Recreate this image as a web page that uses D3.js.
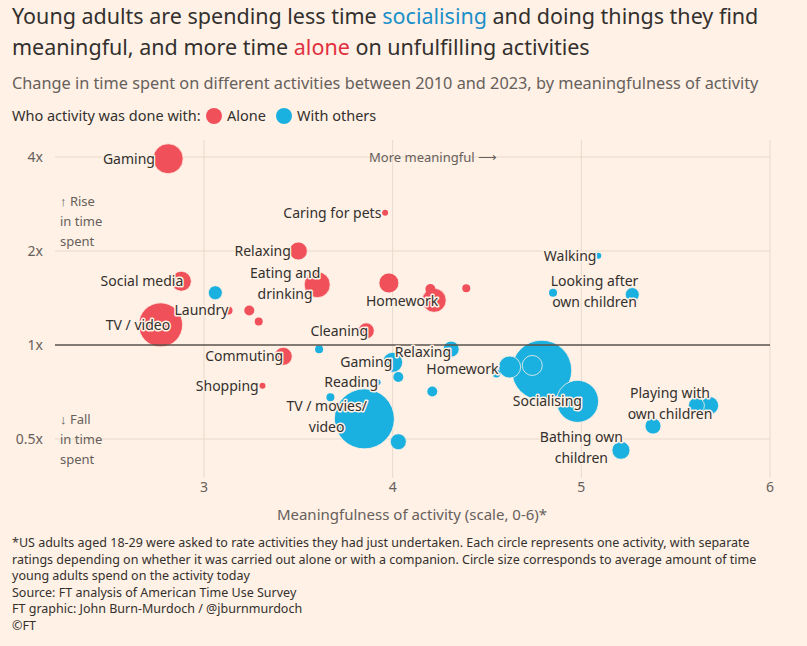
<!DOCTYPE html>
<html><head><meta charset="utf-8">
<script src="https://cdn.jsdelivr.net/npm/d3@7"></script>
<style>body{margin:0;background:#fff1e5;font-family:"Noto Sans",sans-serif;}</style>
</head><body><svg id="c" width="807" height="646"></svg>
<script>
const aloneX=[2.81,3.96,3.50,2.88,3.60,3.98,4.20,4.39,4.22,3.13,3.24,3.29,2.77,3.86,3.42,3.31];
const aloneY=[3.95,2.65,2.0,1.60,1.56,1.58,1.51,1.52,1.39,1.29,1.29,1.19,1.16,1.11,0.92,0.74];
const aloneR=[15,3,9,10,13,10,5,4,12,4,5,4,22,8,9,3];
const othersX=[3.06,5.09,4.85,5.27,3.61,4.0,4.11,4.31,4.03,3.92,4.62,4.74,4.79,4.21,4.55,3.85,3.67,4.03,4.98,5.61,5.68,5.38,5.21];
const othersY=[1.47,1.93,1.47,1.45,0.97,0.88,0.95,0.97,0.79,0.76,0.85,0.86,0.83,0.71,0.81,0.58,0.68,0.49,0.66,0.64,0.64,0.55,0.46];
const othersR=[7,3,4,7,4,10,4,8,5,3,11,10,30,5,4,30,4,8,21,8,9,8,9];
const xTicks=[3,4,5,6];
const yTicks=[4,2,1,0.5];
const yTickLabels=["4x","2x","1x","0.5x"];
// labels: text, x, y (data), anchor
const labelText=["Gaming","Caring for pets","Relaxing","Social media","Eating and|drinking","Homework","Laundry","TV / video","Cleaning","Commuting","Shopping","Walking","Looking after|own children","Gaming","Relaxing","Homework","Reading","TV / movies/|video","Socialising","Playing with|own children","Bathing own|children"];
const labelX=[2.74,3.94,3.46,2.89,3.43,4.05,3.13,2.65,3.87,3.42,3.29,5.08,5.07,3.86,4.16,4.37,3.78,3.65,4.82,5.47,5.00];
const labelY=[3.95,2.65,2.0,1.60,1.57,1.38,1.29,1.16,1.11,0.92,0.74,1.93,1.48,0.88,0.95,0.84,0.76,0.59,0.66,0.65,0.47];
const labelA=["end","end","end","end","middle","middle","end","middle","end","end","end","end","middle","middle","middle","middle","middle","middle","middle","middle","middle"];

const svg=d3.select("#c");
const RED="#f0505a",BLUE="#1ab0e0",INK="#33302e",MUTE="#66605c";
const x=d3.scaleLinear().domain([3,6]).range([204,770]);
const y=d3.scaleLog().base(2).domain([0.5,4]).range([439,157]);
const L=55,R=770,T=140,B=478;

const t=svg.append("text").attr("x",12).attr("y",24).attr("font-size",21.5).attr("fill",INK);
t.append("tspan").text("Young adults are spending less time ");
t.append("tspan").attr("fill","#1a8fc9").text("socialising");
t.append("tspan").text(" and doing things they find");
const t2=svg.append("text").attr("x",12).attr("y",55).attr("font-size",21.5).attr("fill",INK);
t2.append("tspan").text("meaningful, and more time ");
t2.append("tspan").attr("fill","#e0303f").text("alone");
t2.append("tspan").text(" on unfulfilling activities");
svg.append("text").attr("x",12).attr("y",89).attr("font-size",16.3).attr("fill",MUTE).text("Change in time spent on different activities between 2010 and 2023, by meaningfulness of activity");
svg.append("text").attr("x",12).attr("y",121).attr("font-size",14.5).attr("fill",INK).text("Who activity was done with:");
svg.append("circle").attr("cx",214).attr("cy",116).attr("r",8).attr("fill",RED);
svg.append("text").attr("x",227).attr("y",121).attr("font-size",14.5).attr("fill",INK).text("Alone");
svg.append("circle").attr("cx",284).attr("cy",116).attr("r",8).attr("fill",BLUE);
svg.append("text").attr("x",297).attr("y",121).attr("font-size",14.5).attr("fill",INK).text("With others");

const g=svg.append("g");
xTicks.forEach(v=>g.append("line").attr("x1",x(v)).attr("x2",x(v)).attr("y1",T).attr("y2",B).attr("stroke","#e8d9cc"));
yTicks.forEach(v=>{ if(v!==1) g.append("line").attr("x1",L).attr("x2",R).attr("y1",y(v)).attr("y2",y(v)).attr("stroke","#e8d9cc");});
yTicks.forEach((v,i)=>g.append("text").attr("x",43).attr("y",y(v)+5).attr("text-anchor","end").attr("font-size",14).attr("fill",MUTE).text(yTickLabels[i]));
xTicks.forEach(v=>g.append("text").attr("x",x(v)).attr("y",492).attr("text-anchor","middle").attr("font-size",14).attr("fill",MUTE).text(v));
svg.append("text").attr("x",412).attr("y",520).attr("text-anchor","middle").attr("font-size",15).attr("fill",MUTE).text("Meaningfulness of activity (scale, 0-6)*");
svg.append("text").attr("x",433).attr("y",162).attr("text-anchor","middle").attr("font-size",13).attr("fill",MUTE).text("More meaningful ⟶");
["↑ Rise","in time","spent"].forEach((s,i)=>svg.append("text").attr("x",60).attr("y",206+i*20).attr("font-size",13).attr("fill",MUTE).text(s));
["↓ Fall","in time","spent"].forEach((s,i)=>svg.append("text").attr("x",60).attr("y",424+i*20).attr("font-size",13).attr("fill",MUTE).text(s));

const all=[];
aloneX.forEach((v,i)=>all.push({x:v,y:aloneY[i],r:aloneR[i],c:RED}));
othersX.forEach((v,i)=>all.push({x:v,y:othersY[i],r:othersR[i],c:BLUE}));
all.sort((a,b)=>b.r-a.r);
g.selectAll("circle.d").data(all).join("circle").attr("cx",d=>x(d.x)).attr("cy",d=>y(d.y)).attr("r",d=>d.r).attr("fill",d=>d.c).attr("stroke","#fff1e5").attr("stroke-width",d=>d.r>6?0.8:0);
g.append("line").attr("x1",L).attr("x2",R).attr("y1",y(1)).attr("y2",y(1)).attr("stroke","#5a524d").attr("stroke-width",1.3);

labelText.forEach((s,i)=>{
  const lines=s.split("|");
  lines.forEach((ln,j)=>{
    const yy=y(labelY[i])+5+(j-(lines.length-1)/2)*21;
    g.append("text").attr("x",x(labelX[i])).attr("y",yy).attr("text-anchor",labelA[i]).attr("font-size",14).attr("fill",INK)
     .attr("stroke","#fff1e5").attr("stroke-width",3).attr("paint-order","stroke").attr("stroke-linejoin","round").text(ln);
  });
});

const notes=["*US adults aged 18-29 were asked to rate activities they had just undertaken. Each circle represents one activity, with separate","ratings depending on whether it was carried out alone or with a companion. Circle size corresponds to average amount of time","young adults spend on the activity today","Source: FT analysis of American Time Use Survey","FT graphic: John Burn-Murdoch / @jburnmurdoch","©FT"];
notes.forEach((s,i)=>svg.append("text").attr("x",12).attr("y",547+i*16.6).attr("font-size",12.5).attr("fill",INK).text(s));
</script></body></html>
